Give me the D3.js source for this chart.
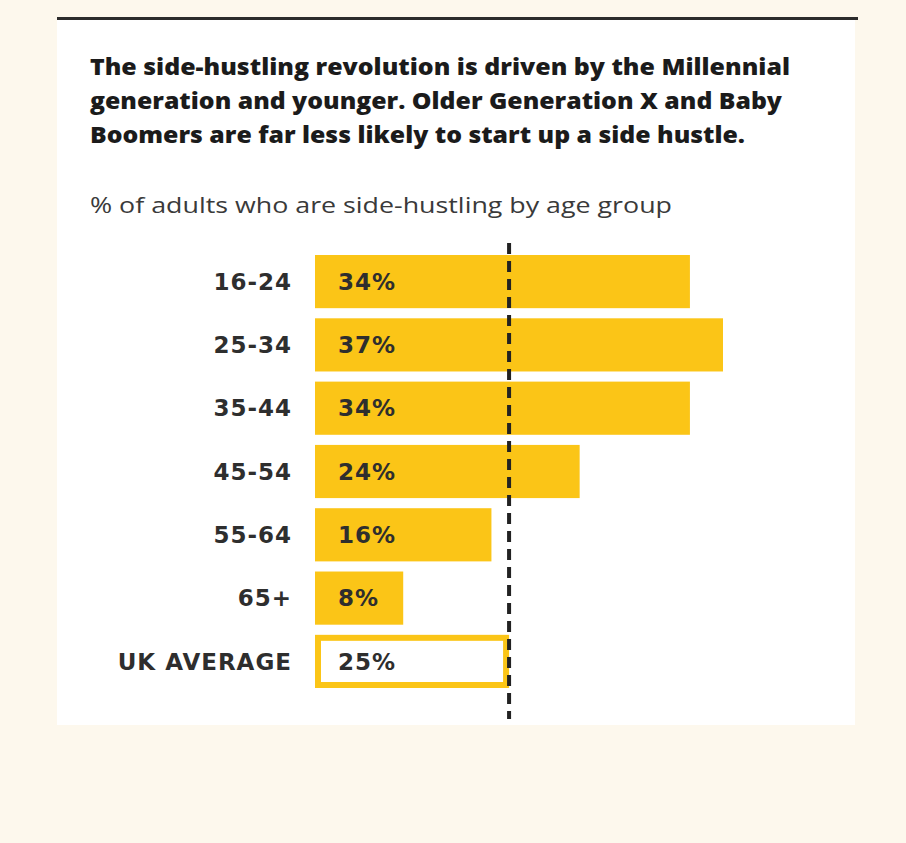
<!DOCTYPE html>
<html lang="en">
<head>
<meta charset="UTF-8">
<title>Side hustling by age group</title>
<script src="https://cdn.jsdelivr.net/npm/d3@7"></script>
<style>
    body {margin: 0; background: #fdf8ed;}
    .title {font-family: "Open Sans", sans-serif; font-weight: 800; font-size: 23.5px; fill: #1b1b1b;}
    .sub {font-family: "Open Sans", sans-serif; font-size: 22px; fill: #3a3a3a;}
    .cat, .val {font-family: "DejaVu Sans", sans-serif; font-weight: 700; font-size: 23px; fill: #2e2e2e; letter-spacing: 1px;}
</style>
</head>
<body>
<div id="chart"></div>
<script>
    var ageGroups = ["16-24", "25-34", "35-44", "45-54", "55-64", "65+"],
        shares = [34, 37, 34, 24, 16, 8],
        avgLabel = "UK AVERAGE",
        ukAverage = 25,
        // the dashed line in the original sits here on the value axis
        refLineAt = 17.6;

    var titleLines = [
        "The side-hustling revolution is driven by the Millennial",
        "generation and younger. Older Generation X and Baby",
        "Boomers are far less likely to start up a side hustle."
    ];
    var titleWidths = [700, 692, 655];
    var subtitle = "% of adults who are side-hustling by age group";

    var width = 906, height = 843;
    var barLeft = 315;
    var yellow = "#fbc517";

    var svg = d3.select("#chart").append("svg")
        .attr("width", width)
        .attr("height", height);

    svg.append("rect").attr("width", width).attr("height", height).attr("fill", "#fdf8ed");
    svg.append("rect").attr("x", 57).attr("y", 19).attr("width", 798).attr("height", 706).attr("fill", "#fff");
    svg.append("line").attr("x1", 57).attr("x2", 858).attr("y1", 18.5).attr("y2", 18.5)
        .attr("stroke", "#2c2c2c").attr("stroke-width", 3);

    svg.selectAll(".title").data(titleLines).enter().append("text")
        .attr("class", "title")
        .attr("x", 90)
        .attr("y", function(d, i) {return 75 + i * 34})
        .attr("textLength", function(d, i) {return titleWidths[i]})
        .attr("lengthAdjust", "spacingAndGlyphs")
        .text(function(d) {return d});

    svg.append("text").attr("class", "sub")
        .attr("x", 90).attr("y", 213)
        .attr("textLength", 582)
        .attr("lengthAdjust", "spacingAndGlyphs")
        .text(subtitle);

    var rows = ageGroups.concat([avgLabel]);
    var values = shares.concat([ukAverage]);

    var x = d3.scaleLinear().domain([0, 37]).range([0, 408]);
    var y = d3.scaleBand().domain(rows).range([255, 688]).paddingInner(0.16);

    var g = svg.append("g").attr("transform", "translate(" + barLeft + ",0)");

    g.selectAll(".bar").data(shares).enter().append("rect")
        .attr("class", "bar")
        .attr("x", 0)
        .attr("y", function(d, i) {return y(ageGroups[i])})
        .attr("width", function(d) {return x(d)})
        .attr("height", y.bandwidth())
        .attr("fill", yellow);

    // outlined average box, runs up to the dashed line
    var sw = 6;
    g.append("rect")
        .attr("x", sw / 2)
        .attr("y", y(avgLabel) + sw / 2)
        .attr("width", x(refLineAt) - sw)
        .attr("height", y.bandwidth() - sw)
        .attr("fill", "#fff")
        .attr("stroke", yellow)
        .attr("stroke-width", sw);

    g.append("line")
        .attr("x1", x(refLineAt)).attr("x2", x(refLineAt))
        .attr("y1", 243).attr("y2", 719)
        .attr("stroke", "#222")
        .attr("stroke-width", 4)
        .attr("stroke-dasharray", "11,7");

    svg.selectAll(".cat").data(rows).enter().append("text")
        .attr("class", "cat")
        .attr("x", 292)
        .attr("y", function(d) {return y(d) + y.bandwidth() / 2})
        .attr("dy", "0.36em")
        .attr("text-anchor", "end")
        .text(function(d) {return d});

    g.selectAll(".val").data(values).enter().append("text")
        .attr("class", "val")
        .attr("x", 23)
        .attr("y", function(d, i) {return y(rows[i]) + y.bandwidth() / 2})
        .attr("dy", "0.36em")
        .text(function(d) {return d + "%"});
</script>
</body>
</html>
